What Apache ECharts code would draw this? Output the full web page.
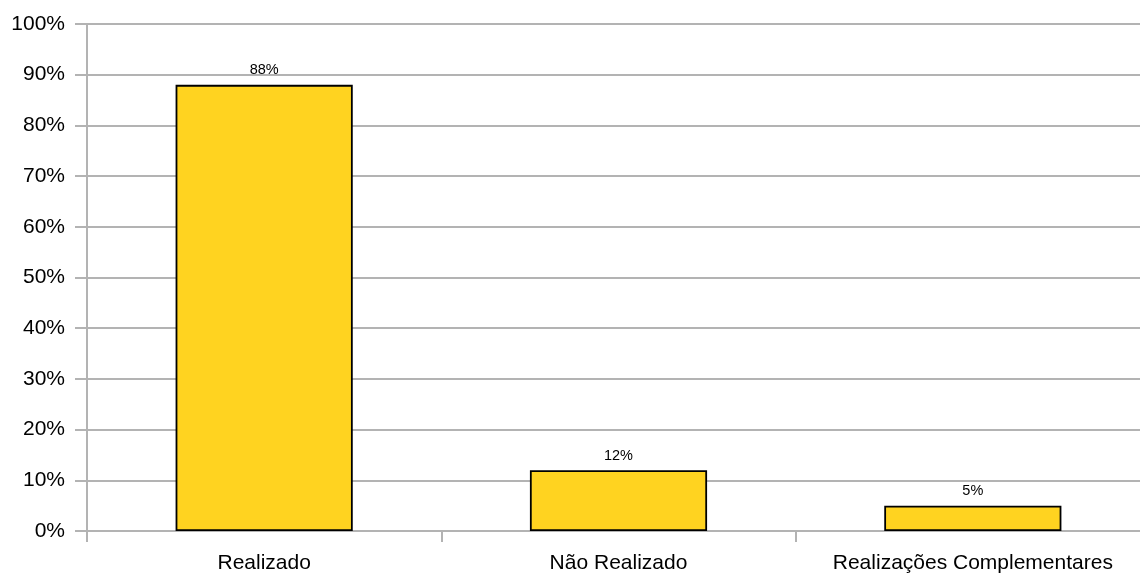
<!DOCTYPE html>
<html>
<head>
<meta charset="utf-8">
<script src="https://cdn.jsdelivr.net/npm/echarts@6/dist/echarts.min.js"></script>
<style>
html, body { margin: 0; padding: 0; overflow: hidden; background: #fff; }
#chart { width: 1150px; height: 578px; }
</style>
</head>
<body>
<div id="chart"></div>
<script>
// categories and values (percent)
var categories = ['Realizado', 'Não Realizado', 'Realizações Complementares'];
var values = [88, 12, 5];
var yTicks = [0, 10, 20, 30, 40, 50, 60, 70, 80, 90, 100];

var gridColor = '#b3b3b3';
var font = '"Liberation Sans", Arial, sans-serif';

var chart = echarts.init(document.getElementById('chart'));
chart.setOption({
	animation: false,
	grid: { left: 87, right: 0, top: 24, bottom: 47 },
	xAxis: {
		type: 'category',
		data: categories,
		axisLine: { lineStyle: { color: gridColor, width: 2 } },
		axisTick: { show: true, interval: 0, length: 11, lineStyle: { color: gridColor, width: 2 } },
		axisLabel: { color: '#000', fontSize: 21, fontFamily: font, margin: 22, interval: 0, hideOverlap: false }
	},
	yAxis: {
		type: 'value',
		min: yTicks[0],
		max: yTicks[yTicks.length - 1],
		interval: 10,
		axisLine: { show: true, lineStyle: { color: gridColor, width: 2 } },
		axisTick: { show: true, length: 12, lineStyle: { color: gridColor, width: 2 } },
		splitLine: { lineStyle: { color: gridColor, width: 2 } },
		axisLabel: {
			color: '#000', fontSize: 21, fontFamily: font, margin: 22,
			formatter: function(v) { return v + '%'; }
		}
	},
	series: [
		{
			type: 'bar',
			data: values,
			barWidth: '50%',
			itemStyle: { color: '#ffd320', borderColor: '#000', borderWidth: 1.8 },
			label: {
				show: true,
				position: 'top',
				distance: 7,
				color: '#000',
				fontSize: 14.5,
				fontFamily: font,
				formatter: function(p) { return p.value + '%'; }
			}
		}
	]
});
</script>
</body>
</html>
